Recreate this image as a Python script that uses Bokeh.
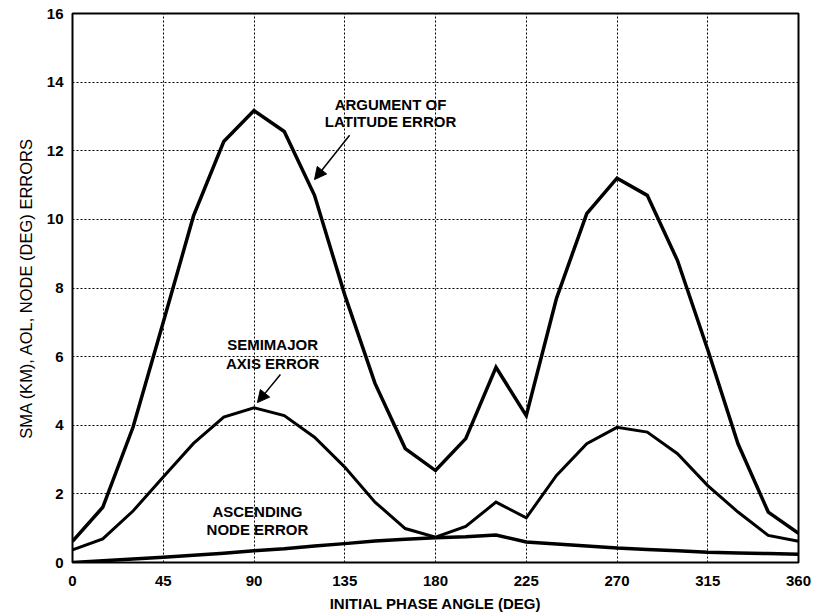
from bokeh.plotting import figure
from bokeh.models import Range1d, FixedTicker, Arrow, NormalHead
from bokeh.core.properties import value
from bokeh.embed import file_html
from bokeh.resources import INLINE

# Initial phase angle samples (deg)
phase_deg = [0, 15, 30, 45, 60, 75, 90, 105, 120, 135, 150, 165, 180,
             195, 210, 225, 240, 255, 270, 285, 300, 315, 330, 345, 360]

# Argument of latitude error (deg)
aol_err = [0.62, 1.61, 3.94, 7.0, 10.1, 12.27, 13.17, 12.56, 10.7, 7.8, 5.22, 3.32, 2.68,
           3.61, 5.69, 4.28, 7.7, 10.17, 11.2, 10.7, 8.8, 6.2, 3.46, 1.47, 0.85]

# Semimajor axis error (km)
sma_err = [0.37, 0.69, 1.5, 2.49, 3.47, 4.24, 4.51, 4.28, 3.65, 2.78, 1.76, 0.99, 0.74,
           1.05, 1.76, 1.30, 2.54, 3.46, 3.94, 3.80, 3.17, 2.24, 1.47, 0.79, 0.62]

# Ascending node error (deg)
node_err = [0.0, 0.05, 0.10, 0.15, 0.21, 0.27, 0.34, 0.40, 0.48, 0.55, 0.63, 0.68, 0.72,
            0.75, 0.80, 0.60, 0.54, 0.48, 0.42, 0.38, 0.34, 0.30, 0.28, 0.26, 0.24]

x_ticks = [0, 45, 90, 135, 180, 225, 270, 315, 360]
y_ticks = [0, 2, 4, 6, 8, 10, 12, 14, 16]

FONT = "Liberation Sans"

p = figure(
    frame_width=726, frame_height=549,
    min_border_left=72, min_border_right=16, min_border_top=13, min_border_bottom=51,
    x_range=Range1d(0, 360), y_range=Range1d(0, 16),
    output_backend="svg", toolbar_location=None,
    background_fill_color="white", border_fill_color="white",
)

p.outline_line_color = "black"
p.outline_line_width = 2

for ax in (p.xaxis[0], p.yaxis[0]):
    ax.axis_line_color = None
    ax.major_tick_line_color = None
    ax.minor_tick_line_color = None
    ax.major_tick_out = 0
    ax.major_tick_in = 0
    ax.major_label_text_font = FONT
    ax.major_label_text_font_style = "bold"
    ax.major_label_text_font_size = "15px"
    ax.major_label_text_color = "black"
    ax.axis_label_text_font = FONT
    ax.axis_label_text_color = "black"

p.xaxis.ticker = FixedTicker(ticks=x_ticks)
p.yaxis.ticker = FixedTicker(ticks=y_ticks)
p.xaxis.major_label_standoff = 13
p.yaxis.major_label_standoff = 9

p.xaxis.axis_label = "INITIAL PHASE ANGLE (DEG)"
p.xaxis.axis_label_text_font_size = "15px"
p.xaxis.axis_label_text_font_style = "bold"
p.xaxis.axis_label_standoff = 6

p.yaxis.axis_label = "SMA (KM), AOL, NODE (DEG) ERRORS"
p.yaxis.axis_label_text_font_size = "16.5px"
p.yaxis.axis_label_text_font_style = "normal"
p.yaxis.axis_label_standoff = 9

for g in (p.xgrid[0], p.ygrid[0]):
    g.grid_line_color = "black"
    g.grid_line_dash = "2 2"
    g.grid_line_width = 1
    g.grid_line_alpha = 1.0

# Error curves
p.line(phase_deg, aol_err, line_color="black", line_width=3.5, line_join="miter")
p.line(phase_deg, sma_err, line_color="black", line_width=3, line_join="miter")
p.line(phase_deg, node_err, line_color="black", line_width=3.5, line_join="miter")

# Curve labels
label_style = dict(text_font=value(FONT), text_font_style="bold", text_font_size="15px",
                   text_color="black", text_align="center", text_baseline="middle")
p.text(x=[157.7, 157.7], y=[13.35, 12.85], text=["ARGUMENT OF", "LATITUDE ERROR"], **label_style)
p.text(x=[99.2, 99.2], y=[6.35, 5.81], text=["SEMIMAJOR", "AXIS ERROR"], **label_style)
p.text(x=[91.7, 91.7], y=[1.49, 0.96], text=["ASCENDING", "NODE ERROR"], **label_style)

# Pointer arrows
def pointer(x0, y0, x1, y1):
    p.add_layout(Arrow(
        x_start=x0, y_start=y0, x_end=x1, y_end=y1,
        line_color="black", line_width=1.5,
        end=NormalHead(size=12, fill_color="black", line_color="black", line_width=1),
    ))

pointer(137.4, 12.45, 120.0, 11.16)
pointer(103.1, 5.48, 91.7, 4.66)

open("out.html", "w").write(file_html(p, INLINE))
